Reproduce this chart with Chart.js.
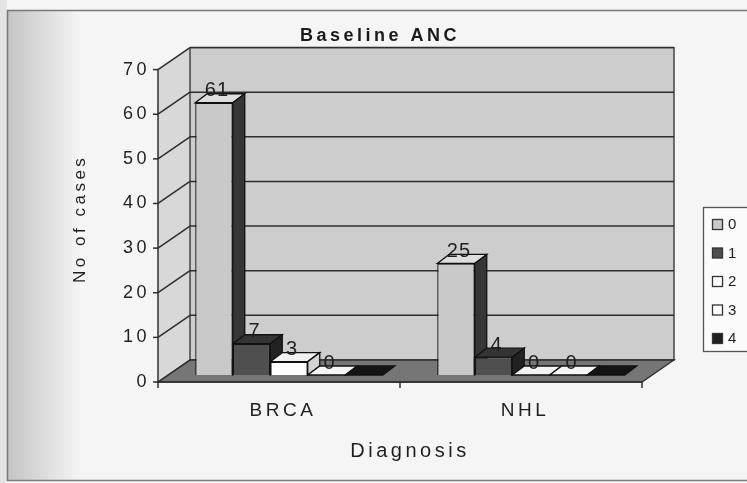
<!DOCTYPE html>
<html lang="en">

<head>
    <meta charset="UTF-8">
    <title>Baseline ANC</title>
    <script src="https://cdn.jsdelivr.net/npm/chart.js"></script>
    <style>
        body { margin: 0; background: #f4f4f4; }
        canvas { display: block; }
    </style>
</head>

<body>
    <canvas id="graficoAnc" width="747" height="483"></canvas>

    <script>
        // values
        const categorias = ['BRCA', 'NHL'];
        const nomesSeries = ['0', '1', '2', '3', '4'];
        const valores0 = [61, 25];
        const valores1 = [7, 4];
        const valores2 = [3, 0];
        const valores3 = [0, 0];
        const valores4 = [0, 0];
        const ticksY = [0, 10, 20, 30, 40, 50, 60, 70];
        const comRotulo = [true, true, true, true, false];

        // look of each series: front, top, side
        const corFrente = ['#c9c9c9', '#4f4f4f', '#ffffff', '#ffffff', '#202020'];
        const corTopo = ['#dedede', '#343434', '#f2f2f2', '#f6f6f6', '#141414'];
        const corLado = ['#363636', '#222222', '#d4d4d4', '#d8d8d8', '#111111'];

        const fonte = "'Liberation Sans', Arial, sans-serif";
        const corTexto = '#1f1f1f';
        const frente = { dx: -10, dy: 7 };   // front plane, relative to the bars
        const fundo = { dx: 22, dy: -15 };   // back wall, relative to the bars
        const prof = { dx: 12, dy: -9 };     // depth of one bar

        const listaValores = [valores0, valores1, valores2, valores3, valores4];

        function linha(ctx, x1, y1, x2, y2) {
            ctx.beginPath();
            ctx.moveTo(x1, y1);
            ctx.lineTo(x2, y2);
            ctx.stroke();
        }

        function poligono(ctx, pts, fill, stroke, lw) {
            ctx.beginPath();
            ctx.moveTo(pts[0][0], pts[0][1]);
            for (let k = 1; k < pts.length; k++) ctx.lineTo(pts[k][0], pts[k][1]);
            ctx.closePath();
            if (fill) { ctx.fillStyle = fill; ctx.fill(); }
            if (stroke) { ctx.strokeStyle = stroke; ctx.lineWidth = lw || 1; ctx.stroke(); }
        }

        // background, walls, floor, grid
        const pluginCenario = {
            id: 'cenario',
            beforeDraw(chart) {
                const ctx = chart.ctx;
                const a = chart.chartArea;
                const y = chart.scales.y;
                const W = chart.width, H = chart.height;

                ctx.save();
                ctx.fillStyle = '#f5f5f5';
                ctx.fillRect(0, 0, W, H);
                ctx.fillStyle = '#e4e4e4';
                ctx.fillRect(0, 0, 7, H);
                const g = ctx.createLinearGradient(8, 0, 80, 0);
                g.addColorStop(0, '#c4c4c4');
                g.addColorStop(1, '#f5f5f5');
                ctx.fillStyle = g;
                ctx.fillRect(8, 11, 72, H - 14);
                ctx.strokeStyle = '#7a7a7a';
                ctx.lineWidth = 1.5;
                ctx.strokeRect(7.5, 10.5, W, H - 13);

                const y0 = y.getPixelForValue(0), yTop = y.getPixelForValue(ticksY[ticksY.length - 1]);
                const fl = a.left + frente.dx, fr = a.right + frente.dx;
                const bl = a.left + fundo.dx, br = a.right + fundo.dx;

                // side wall
                poligono(ctx, [[fl, yTop + frente.dy], [bl, yTop + fundo.dy], [bl, y0 + fundo.dy], [fl, y0 + frente.dy]], '#d8d8d8');
                // back wall
                poligono(ctx, [[bl, yTop + fundo.dy], [br, yTop + fundo.dy], [br, y0 + fundo.dy], [bl, y0 + fundo.dy]], '#cdcdcd', '#3a3a3a', 1.4);
                // floor
                poligono(ctx, [[fl, y0 + frente.dy], [fr, y0 + frente.dy], [br, y0 + fundo.dy], [bl, y0 + fundo.dy]], '#767676', '#2e2e2e', 1.3);

                ctx.strokeStyle = '#2e2e2e';
                ctx.lineWidth = 1.5;
                ticksY.forEach(function (v) {
                    const p = y.getPixelForValue(v);
                    if (v > 0) linha(ctx, bl, p + fundo.dy, br, p + fundo.dy);
                    linha(ctx, fl, p + frente.dy, bl, p + fundo.dy);
                    linha(ctx, fl - 5, p + frente.dy, fl, p + frente.dy);
                });
                // front axis
                linha(ctx, fl, yTop + frente.dy, fl, y0 + frente.dy + 1);
                linha(ctx, fl, y0 + frente.dy, fr, y0 + frente.dy);
                const larg = (a.right - a.left) / categorias.length;
                for (let k = 0; k <= categorias.length; k++) {
                    const xx = fl + k * larg;
                    linha(ctx, xx, y0 + frente.dy, xx, y0 + frente.dy + 6);
                }
                ctx.restore();

                ctx.letterSpacing = '3.5px';
            }
        };

        // top and side faces of the bars, drawn before the fronts
        const pluginBarras3d = {
            id: 'barras3d',
            beforeDatasetsDraw(chart) {
                const ctx = chart.ctx;
                ctx.save();
                chart.data.datasets.forEach(function (ds, i) {
                    chart.getDatasetMeta(i).data.forEach(function (bar) {
                        const p = bar.getProps(['x', 'y', 'base', 'width'], true);
                        const l = p.x - p.width / 2, r = p.x + p.width / 2;
                        poligono(ctx, [[l, p.y], [l + prof.dx, p.y + prof.dy], [r + prof.dx, p.y + prof.dy], [r, p.y]], corTopo[i], '#111', 1.3);
                        if (p.base - p.y > 0.5) {
                            poligono(ctx, [[r, p.y], [r + prof.dx, p.y + prof.dy], [r + prof.dx, p.base + prof.dy], [r, p.base]], corLado[i], '#111', 1.3);
                        }
                    });
                });
                ctx.restore();
            },
            afterDatasetsDraw(chart) {
                const ctx = chart.ctx;
                ctx.save();
                ctx.letterSpacing = '1px';
                ctx.font = '20px ' + fonte;
                ctx.fillStyle = corTexto;
                ctx.textAlign = 'center';
                ctx.textBaseline = 'middle';
                chart.data.datasets.forEach(function (ds, i) {
                    if (!comRotulo[i]) return;
                    chart.getDatasetMeta(i).data.forEach(function (bar, j) {
                        ctx.fillText(String(ds.data[j]), bar.x + 3, bar.y - 12);
                    });
                });

                // legend
                ctx.letterSpacing = '2px';
                ctx.fillStyle = '#fbfbfb';
                ctx.fillRect(703.5, 207.5, 60, 144);
                ctx.strokeStyle = '#555';
                ctx.lineWidth = 1.3;
                ctx.strokeRect(703.5, 207.5, 60, 144);
                ctx.font = '15px ' + fonte;
                ctx.textAlign = 'left';
                nomesSeries.forEach(function (nome, i) {
                    const yy = 225 + i * 28.5;
                    ctx.fillStyle = corFrente[i];
                    ctx.fillRect(712.5, yy - 5.5, 10, 10);
                    ctx.strokeStyle = '#333';
                    ctx.strokeRect(712.5, yy - 5.5, 10, 10);
                    ctx.fillStyle = corTexto;
                    ctx.fillText(nome, 728, yy);
                });
                ctx.restore();
            }
        };

        const datasets = nomesSeries.map(function (nome, i) {
            return {
                label: nome,
                data: listaValores[i],
                backgroundColor: corFrente[i],
                borderColor: '#111',
                borderWidth: 1.3,
                categoryPercentage: 0.775,
                barPercentage: 1
            };
        });

        new Chart(document.getElementById('graficoAnc'), {
            type: 'bar',
            data: { labels: categorias, datasets: datasets },
            options: {
                responsive: false,
                animation: false,
                layout: { padding: { left: 108, right: 95, top: 10, bottom: 0 } },
                plugins: {
                    legend: { display: false },
                    tooltip: { enabled: false },
                    title: {
                        display: true,
                        text: 'Baseline ANC',
                        color: '#1a1a1a',
                        font: { family: fonte, size: 18, weight: 'bold' },
                        padding: { top: 15, bottom: 16 }
                    }
                },
                scales: {
                    x: {
                        grid: { display: false, drawTicks: false },
                        border: { display: false },
                        ticks: { color: corTexto, font: { family: fonte, size: 19 }, padding: 24, labelOffset: -6, maxRotation: 0 },
                        title: { display: true, text: 'Diagnosis', color: corTexto, font: { family: fonte, size: 20 }, padding: { bottom: 20 } },
                        afterFit: function (scale) { scale.height = 108; }
                    },
                    y: {
                        min: 0,
                        max: 70,
                        grid: { display: false, drawTicks: false },
                        border: { display: false },
                        ticks: { color: corTexto, font: { family: fonte, size: 18 }, padding: 18, labelOffset: 7 },
                        afterBuildTicks: function (scale) {
                            scale.ticks = ticksY.map(function (v) { return { value: v }; });
                        },
                        title: { display: true, text: 'No of cases', color: corTexto, font: { family: fonte, size: 17 }, padding: { top: -38 } },
                        afterFit: function (scale) { scale.width = 60; }
                    }
                }
            },
            plugins: [pluginCenario, pluginBarras3d]
        });
    </script>
</body>

</html>
